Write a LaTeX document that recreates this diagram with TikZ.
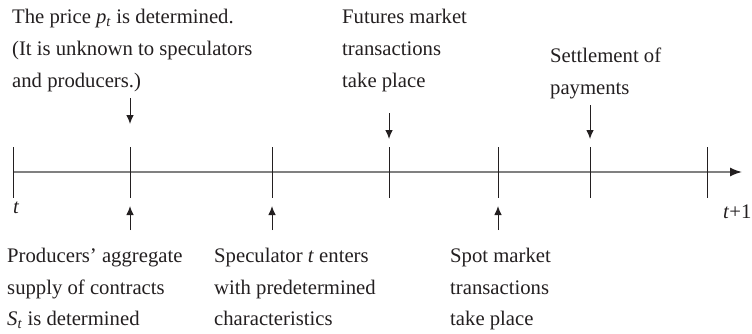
\documentclass[tikz,border=0pt]{standalone}
\usepackage{fontspec}
\setmainfont{Liberation Serif}
\usetikzlibrary{arrows.meta}
\definecolor{ink}{HTML}{231F20}
\definecolor{axisgray}{HTML}{808080}
\begin{document}
\begin{tikzpicture}[x=1pt,y=-1pt,
  lbl/.style={anchor=base west,inner sep=0pt,font=\fontsize{20.7}{32}\selectfont,text=ink},
  tickline/.style={draw=ink,line width=1pt},
  evarrow/.style={draw=ink,line width=1pt,-{Latex[length=9pt,width=7.5pt]}},
  axisline/.style={draw=axisgray,line width=1.5pt,-{Latex[length=12pt,width=9pt,color=ink]}}]
\useasboundingbox (0,0) rectangle (752,333);
% axis
\coordinate (axs) at (13,172);
\coordinate (axe) at (742,172);
\draw[axisline] (axs) -- (axe);
% ticks
\foreach \n/\x in {a/13,b/130,c/272,d/389,e/498,f/590,g/707}{
  \coordinate (tt\n) at (\x,147);
  \coordinate (tb\n) at (\x,198);
  \draw[tickline] (tt\n) -- (tb\n);
}
% down arrows
\coordinate (d1s) at (130,98);  \coordinate (d1e) at (130,124);
\coordinate (d2s) at (389,113); \coordinate (d2e) at (389,139);
\coordinate (d3s) at (590,105); \coordinate (d3e) at (590,139);
\draw[evarrow] (d1s) -- (d1e);
\draw[evarrow] (d2s) -- (d2e);
\draw[evarrow] (d3s) -- (d3e);
% up arrows
\coordinate (u1s) at (130,230); \coordinate (u1e) at (130,206);
\coordinate (u2s) at (272,230); \coordinate (u2e) at (272,206);
\coordinate (u3s) at (498,230); \coordinate (u3e) at (498,206);
\draw[evarrow] (u1s) -- (u1e);
\draw[evarrow] (u2s) -- (u2e);
\draw[evarrow] (u3s) -- (u3e);
% axis labels
\node[lbl] (lt) at (13,213) {\textit{t}};
\node[lbl] (lt1) at (723,218) {\textit{t}+1};
% top texts
\node[lbl] (pa) at (12,23) {The price \textit{p}\textsubscript{\textit{t}} is determined.};
\node[lbl] (pb) at (12,55) {(It is unknown to speculators};
\node[lbl] (pc) at (12,87) {and producers.)};
\node[lbl] (fa) at (342,23) {Futures market};
\node[lbl] (fb) at (342,55) {transactions};
\node[lbl] (fc) at (342,87) {take place};
\node[lbl] (sa) at (550,62) {Settlement of};
\node[lbl] (sb) at (550,94) {payments};
% bottom texts
\node[lbl] (ra) at (7,262) {Producers' aggregate};
\node[lbl] (rb) at (7,294) {supply of contracts};
\node[lbl] (rc) at (7,325) {\textit{S}\textsubscript{\textit{t}} is determined};
\node[lbl] (qa) at (214,262) {Speculator \textit{t} enters};
\node[lbl] (qb) at (214,294) {with predetermined};
\node[lbl] (qc) at (214,325) {characteristics};
\node[lbl] (ma) at (450,262) {Spot market};
\node[lbl] (mb) at (450,294) {transactions};
\node[lbl] (mc) at (450,325) {take place};
\end{tikzpicture}
\end{document}
